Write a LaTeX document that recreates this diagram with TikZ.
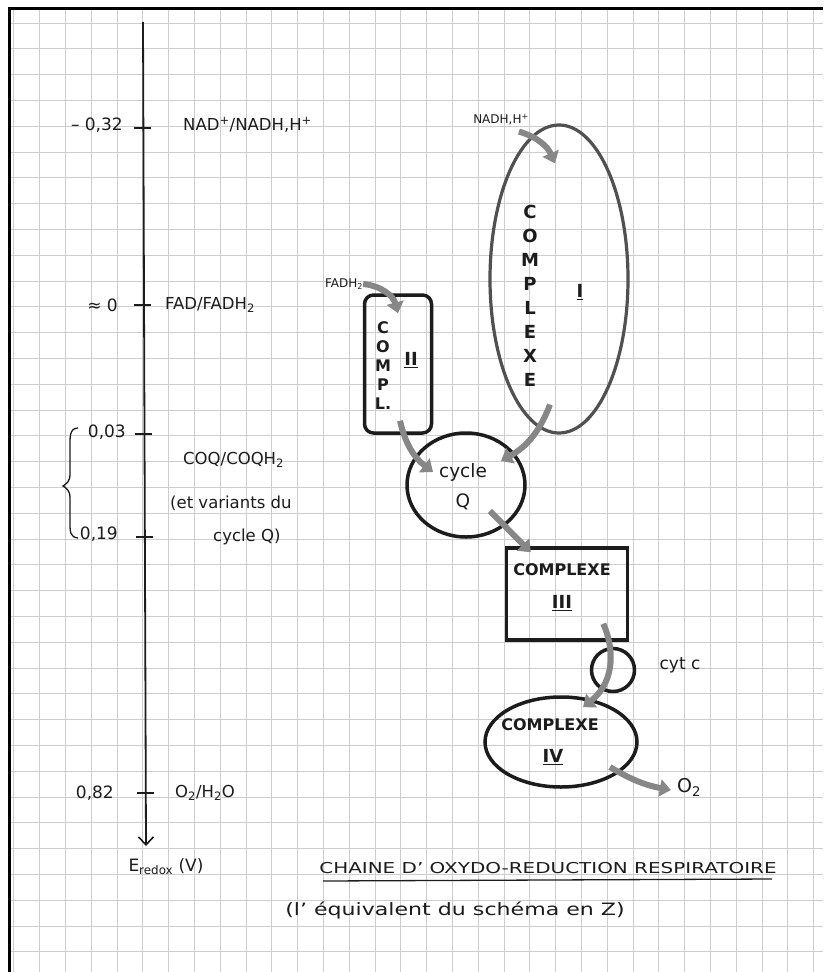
\documentclass[tikz,border=0pt]{standalone}
\usepackage{fontspec}
\setmainfont{DejaVu Sans}
\usetikzlibrary{arrows.meta,shapes.geometric,calc}
\definecolor{gridc}{RGB}{205,205,205}
\definecolor{arrc}{RGB}{135,135,135}
\definecolor{ink}{RGB}{28,28,28}
\definecolor{inkgray}{RGB}{80,80,80}
\tikzset{
  gridline/.style={draw=gridc, line width=0.9pt},
  lbl/.style={text=ink, font=\fontsize{16.5}{19}\selectfont, inner sep=0pt},
  val/.style={text=ink, font=\fontsize{17}{19}\selectfont, inner sep=0pt, anchor=east},
  garrow/.style={draw=arrc, line width=6pt, -{Triangle[length=11pt,width=17pt]}},
  shapeline/.style={draw=ink, line width=3.5pt, inner sep=0pt},
  tickline/.style={draw=ink, line width=1.6pt},
  vert/.style={text=ink, align=center, inner sep=0pt, font=\bfseries\fontsize{18}{24}\selectfont},
  roman/.style={text=ink, inner sep=0pt, font=\bfseries\fontsize{18}{20}\selectfont},
}
\begin{document}
\begin{tikzpicture}[x=1pt,y=-1pt]
\useasboundingbox (0,0) rectangle (823,972);
\fill[white] (0,0) rectangle (823,972);
% grid paper
\foreach \i in {0,...,31} { \draw[gridline] ({13.8+25.8*\i},8) -- ({13.8+25.8*\i},972); }
\foreach \k in {0,...,36} { \draw[gridline] (9,{23+25.8*\k}) -- (823,{23+25.8*\k}); }
% page border
\draw[draw=black, line width=3pt] (9,972) -- (9,8) -- (823,8);

% redox axis
\coordinate (axtop) at (143,22);
\coordinate (axbot) at (146,846);
\draw[draw=ink, line width=1.8pt, -{Straight Barb[length=8pt,width=15pt,line width=1.6pt]}] (axtop) -- (axbot);
\draw[tickline] (134,128) -- (151,128);
\draw[tickline] (134,305) -- (151,305);
\draw[tickline] (135,434) -- (152,434);
\draw[tickline] (136,537) -- (153,537);
\draw[tickline] (137,793) -- (154,793);

% axis values
\node[val] (v1) at (123,125) {– 0,32};
\node[val] (v2) at (118,305) {≈ 0};
\node[val] (v3) at (126,432) {0,03};
\node[val] (v4) at (118,534) {0,19};
\node[val] (v5) at (114,793) {0,82};
\draw[draw=ink, line width=1.3pt] (78,428) .. controls (69,428) and (70,438) .. (70,450)
  -- (70,474) .. controls (70,482) and (66,484) .. (63,486)
  .. controls (66,488) and (70,490) .. (70,498)
  -- (70,522) .. controls (70,532) and (70,537) .. (78,538);

% couples
\node[lbl, anchor=west] (r1) at (183,125) {NAD\textsuperscript{+}/NADH,H\textsuperscript{+}};
\node[lbl, anchor=west] (r2) at (165,305) {FAD/FADH\textsubscript{2}};
\node[lbl, anchor=west] (r3) at (183,460) {COQ/COQH\textsubscript{2}};
\node[lbl, anchor=west] (r4) at (170,503) {(et variants du};
\node[lbl, anchor=west] (r5) at (213,537) {cycle Q)};
\node[lbl, anchor=west] (r6) at (175,793) {O\textsubscript{2}/H\textsubscript{2}O};
\node[lbl, font=\fontsize{17}{19}\selectfont] (eaxis) at (166,867) {E\textsubscript{redox} (V)};

% title
\node[lbl, font=\fontsize{15}{17}\selectfont] (title) at (548,868) {\scalebox{1.33}[1]{CHAINE D' OXYDO-REDUCTION RESPIRATOIRE}};
\draw[draw=ink, line width=1.3pt] (323,881) -- (772,879);
\node[lbl, font=\fontsize{17}{20}\selectfont] (sub) at (455,910) {\scalebox{1.3}[1]{(l' équivalent du schéma en Z)}};

% complex I
\node[ellipse, shapeline, draw=inkgray, line width=3.2pt, minimum width=138, minimum height=308] (c1) at (559,279) {};
\node[vert] (c1t) at (530,296) {C\\O\\M\\P\\L\\E\\X\\E};
\node[roman] (c1n) at (580,292) {\underline{I}};
\node[lbl, font=\fontsize{12}{14}\selectfont] (nadh) at (501,120) {NADH,H\textsuperscript{+}};

% complex II
\node[rectangle, rounded corners=9pt, shapeline, minimum width=67, minimum height=138] (c2) at (398,364) {};
\node[vert, font=\bfseries\fontsize{16}{19}\selectfont] (c2t) at (383,366) {C\\O\\M\\P\\L.};
\node[roman] (c2n) at (411,360) {\underline{II}};
\node[lbl, font=\fontsize{12}{14}\selectfont] (fadh) at (344,284) {FADH\textsubscript{2}};

% cycle Q
\node[ellipse, shapeline, minimum width=118, minimum height=104] (cq) at (466,485) {};
\node[lbl, align=center, font=\fontsize{18.5}{30}\selectfont] (cqt) at (463,487) {cycle\\Q};

% complex III
\node[rectangle, shapeline, minimum width=121, minimum height=92] (c3) at (567,594) {};
\node[lbl, font=\bfseries\fontsize{16}{18}\selectfont] (c3t) at (562,570) {COMPLEXE};
\node[roman] (c3n) at (562,603) {\underline{III}};

% cytochrome c
\node[circle, shapeline, minimum size=43] (cyt) at (613,670) {};
\node[lbl, font=\fontsize{17}{19}\selectfont] (cytl) at (680,665) {cyt c};

% complex IV
\node[ellipse, shapeline, minimum width=152, minimum height=90] (c4) at (561,742) {};
\node[lbl, font=\bfseries\fontsize{16}{18}\selectfont] (c4t) at (550,725) {COMPLEXE};
\node[roman] (c4n) at (553,757) {\underline{IV}};
\node[lbl, font=\fontsize{19}{22}\selectfont] (o2) at (689,787) {O\textsubscript{2}};

% electron flow arrows
\draw[garrow] ($(nadh.south east)+(-10,6)$) to[bend left=25] ($(c1.north)+(-4,40)$);
\draw[garrow] (fadh.east) to[bend left=35] ($(c2.north)+(0,20)$);
\draw[garrow] ($(c2.south)+(2,-14)$) to[bend right=20] ($(cq.north west)+(10,25)$);
\draw[garrow] ($(c1.south)+(-9,-30)$) to[bend left=20] ($(cq.north east)+(-8,14)$);
\draw[garrow] ($(cq.south east)+(-19,-12)$) -- ($(c3.north west)+(26,6)$);
\draw[garrow] ($(c3.south east)+(-26,-18)$) .. controls ($(cyt.center)+(0,-25)$) and ($(cyt.center)+(4,10)$) .. ($(c4.north)+(22,12)$);
\draw[garrow] ($(c4.south east)+(-6,-8)$) to[bend right=10] ($(o2.west)+(-6,3)$);
\end{tikzpicture}
\end{document}
